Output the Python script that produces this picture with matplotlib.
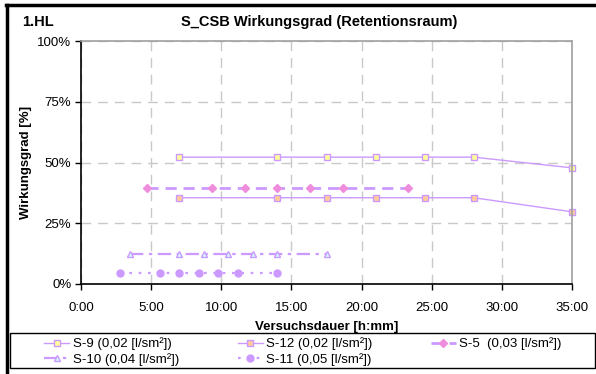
import matplotlib
matplotlib.use('Agg')
import matplotlib.pyplot as plt
from matplotlib.patches import Rectangle
from matplotlib.lines import Line2D
from matplotlib.ticker import FuncFormatter, MultipleLocator

plt.rcParams['font.family'] = ['Liberation Sans', 'DejaVu Sans']

# Versuchsdauer [h] und Wirkungsgrad [%]
t_s9 = [7.0, 14.0, 17.5, 21.0, 24.5, 28.0, 35.0]
w_s9 = [52.2, 52.2, 52.2, 52.2, 52.2, 52.2, 47.8]

t_s12 = [7.0, 14.0, 17.5, 21.0, 24.5, 28.0, 35.0]
w_s12 = [35.5, 35.5, 35.5, 35.5, 35.5, 35.5, 29.7]

t_s5 = [4.67, 9.33, 11.67, 14.0, 16.33, 18.67, 23.33]
w_s5 = [39.7, 39.7, 39.7, 39.7, 39.7, 39.7, 39.7]

t_s10 = [3.5, 7.0, 8.75, 10.5, 12.25, 14.0, 17.5]
w_s10 = [12.3, 12.3, 12.3, 12.3, 12.3, 12.3, 12.3]

t_s11 = [2.8, 5.6, 7.0, 8.4, 9.8, 11.2, 14.0]
w_s11 = [4.4, 4.4, 4.4, 4.4, 4.4, 4.4, 4.4]

labels = ['S-9 (0,02 [l/sm²])', 'S-12 (0,02 [l/sm²])', 'S-5  (0,03 [l/sm²])',
          'S-10 (0,04 [l/sm²])', 'S-11 (0,05 [l/sm²])']

lav = '#CC99FF'

fig = plt.figure(figsize=(5.96, 3.74), dpi=100)
ax = fig.add_axes([81 / 596, 1 - 284 / 374, 491 / 596, 243 / 374])

l9, = ax.plot(t_s9, w_s9, '-', color=lav, lw=1.0, marker='s', ms=5,
              mfc='#FFFF99', mec=lav, mew=1.0, label=labels[0], clip_on=False)
l12, = ax.plot(t_s12, w_s12, '-', color=lav, lw=1.0, marker='s', ms=5,
               mfc='#FFCC99', mec=lav, mew=1.0, label=labels[1], clip_on=False)
l5, = ax.plot(t_s5, w_s5, color=lav, lw=2.0, dashes=(4, 2.5), marker='D', ms=4.5,
              mfc='#F08CDC', mec='#F08CDC', label=labels[2])
l10, = ax.plot(t_s10, w_s10, color=lav, lw=1.6, dashes=(6, 2.5, 1.5, 2.5), marker='^', ms=5,
               mfc='#CCFFFF', mec=lav, mew=1.0, label=labels[3])
l11, = ax.plot(t_s11, w_s11, color=lav, lw=1.6, dashes=(1.2, 3), marker='o', ms=5,
               mfc=lav, mec=lav, label=labels[4])

ax.set_xlim(0, 35)
ax.set_ylim(0, 100)
ax.xaxis.set_major_locator(MultipleLocator(5))
ax.yaxis.set_major_locator(MultipleLocator(25))
ax.xaxis.set_major_formatter(FuncFormatter(lambda v, p: f'{int(v)}:00'))
ax.yaxis.set_major_formatter(FuncFormatter(lambda v, p: f'{int(v)}%'))
ax.tick_params(labelsize=9.5, length=4, width=1, direction='out', pad=3)
ax.tick_params(axis='x', pad=9)
ax.grid(True, color='#C8C8C8', linestyle=(0, (7, 5)), linewidth=1.0)
ax.set_axisbelow(True)
for s in ['top', 'right']:
    ax.spines[s].set_color('#A0A0A0')
    ax.spines[s].set_linewidth(1.2)
for s in ['left', 'bottom']:
    ax.spines[s].set_color('black')
    ax.spines[s].set_linewidth(1.2)

ax.set_xlabel('Versuchsdauer [h:mm]', fontsize=9.5, weight='bold', labelpad=5)
ax.set_ylabel('Wirkungsgrad [%]', fontsize=9.5, weight='bold', labelpad=4)

fig.text(319 / 596, 1 - 22 / 374, 'S_CSB Wirkungsgrad (Retentionsraum)', ha='center', va='center',
         fontsize=10.5, weight='bold')
fig.text(22 / 596, 1 - 22 / 374, '1.HL', ha='left', va='center', fontsize=10.5, weight='bold')

# Rahmen um Diagramm
fig.add_artist(Line2D([6 / 596, 1.0], [1 - 5 / 374, 1 - 5 / 374], color='black', lw=2.5,
                      transform=fig.transFigure))
fig.add_artist(Line2D([7 / 596, 7 / 596], [0, 1 - 5 / 374], color='black', lw=2.5,
                      transform=fig.transFigure))

# Legende (zeilenweise wie im Original)
fig.add_artist(Rectangle((10 / 596, 1 - 368 / 374), 585 / 596, 35 / 374, fill=False,
                         edgecolor='black', lw=1.0, transform=fig.transFigure))
fig.legend(handles=[l9, l10, l12, l11, l5], loc='lower left', ncol=3, mode='expand',
           bbox_to_anchor=(41 / 596, 1 - 369 / 374, 524 / 596, 37 / 374),
           frameon=False, fontsize=9.5, handlelength=1.9, handletextpad=0.25,
           labelspacing=0.2, borderpad=0.25, borderaxespad=0)

fig.savefig('out.png', dpi=100, facecolor='white')
